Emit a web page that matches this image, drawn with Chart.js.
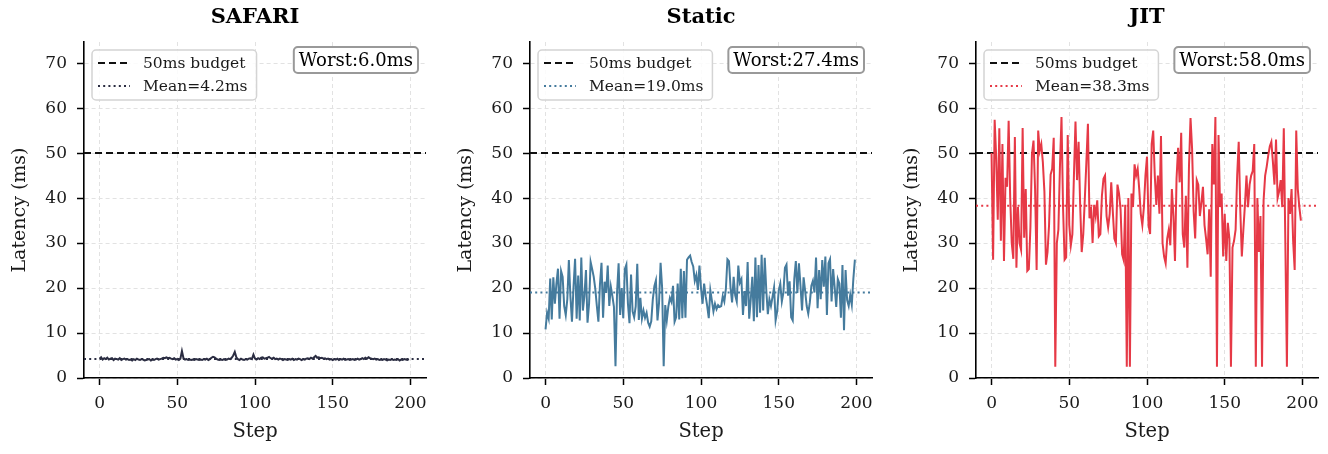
<!DOCTYPE html>
<html>
<head>
<meta charset="utf-8">
<script src="https://cdn.jsdelivr.net/npm/chart.js@4"></script>
<style>
  html, body { margin: 0; padding: 0; background: #fff; overflow: hidden; }
  #wrap { position: relative; width: 1328px; height: 454px; }
  canvas { position: absolute; top: 0; }
</style>
</head>
<body>
<div id="wrap">
  <canvas id="c0" width="442" height="454" style="left:0px"></canvas>
  <canvas id="c1" width="442" height="454" style="left:446px"></canvas>
  <canvas id="c2" width="442" height="454" style="left:892px"></canvas>
</div>
<script>
// latency per step
const SAFARI = [
  4.3,4.6,4.1,4.4,4.2,4.5,4.1,4.3,4.4,4.0, 4.3,4.2,4.1,4.4,4.0,4.2,4.3,4.1,4.2,4.0,
  4.1,3.9,4.2,4.0,4.3,4.1,4.0,4.2,4.1,3.9, 4.0,4.1,4.2,3.9,4.1,4.0,4.2,4.3,4.1,4.2,
  4.3,4.5,4.4,4.6,4.4,4.5,4.3,4.2,4.4,4.1, 4.2,4.0,4.3,6.0,4.4,4.1,4.2,4.0,4.1,4.0,
  4.1,4.0,4.2,4.1,4.0,4.1,4.0,4.2,4.1,4.3, 4.0,4.2,4.5,4.7,4.6,4.3,4.1,4.0,4.1,4.0,
  4.2,4.0,4.1,4.3,4.2,4.5,5.0,5.8,4.6,4.2, 4.0,4.3,4.1,4.0,4.2,4.1,4.3,4.4,4.2,5.2,
  4.3,4.1,4.4,4.2,4.5,4.6,4.3,4.4,4.5,4.7, 4.4,4.3,4.5,4.2,4.3,4.1,4.3,4.2,4.0,4.2,
  4.1,4.0,4.2,4.1,4.3,4.0,4.2,4.1,4.3,4.2, 4.0,4.2,4.1,4.3,4.4,4.2,4.5,4.3,4.6,4.9,
  4.5,4.6,4.4,4.5,4.3,4.4,4.2,4.3,4.1,4.2, 4.0,4.2,4.1,4.3,4.0,4.2,4.1,4.3,4.0,4.1,
  4.2,4.0,4.1,4.2,4.0,4.1,4.3,4.1,4.2,4.4, 4.2,4.5,4.3,4.6,4.4,4.3,4.2,4.3,4.1,4.2,
  4.0,4.1,4.0,4.2,4.1,3.9,4.1,4.0,4.2,4.0, 4.1,4.0,4.2,3.9,4.1,4.0,4.2,4.1,4.0,4.2
];
const STATIC = [
  10.8,14.5,13.2,22.1,13.0,22.4,16.5,21.0,24.3,13.2, 23.8,22.5,16.0,14.0,17.5,26.2,18.1,12.5,20.3,26.5,
  13.2,22.8,12.8,26.8,15.0,18.2,24.0,12.3,16.5,25.8, 24.2,22.5,19.8,16.0,12.5,20.8,25.6,13.4,21.4,18.9,
  25.0,16.0,20.3,18.2,15.8,2.6,19.0,25.5,14.0,20.0, 13.3,24.2,25.2,16.5,12.2,23.0,14.8,13.5,15.9,25.4,
  12.9,17.8,13.2,15.0,13.4,14.5,12.3,11.4,12.6,17.5, 20.4,21.7,12.8,16.7,25.6,20.0,2.6,16.2,12.8,15.9,
  17.8,16.9,20.5,12.5,13.5,21.0,13.0,24.3,13.3,23.8, 13.4,26.3,26.8,27.2,25.8,24.8,21.6,22.9,19.6,25.0,
  20.0,16.5,21.0,18.2,16.0,13.3,19.5,17.2,14.8,16.5, 15.3,16.2,15.8,16.0,18.2,17.0,19.8,26.4,26.0,20.1,
  16.8,22.5,18.4,17.0,25.0,21.2,22.0,14.0,19.3,16.0, 25.8,13.2,17.4,22.5,12.6,26.8,13.5,25.1,14.5,27.4,
  15.0,26.7,19.5,14.2,17.5,16.0,18.0,20.1,12.8,14.8, 19.5,21.0,17.0,19.0,24.5,25.2,18.3,21.5,13.5,12.8,
  22.0,26.0,18.9,25.5,20.5,15.0,22.4,19.3,16.0,14.3, 16.8,20.5,21.6,19.0,26.8,15.5,24.0,17.5,26.2,20.3,
  27.0,14.0,25.5,26.4,17.0,24.2,20.1,15.8,22.0,21.0, 13.4,25.1,10.6,24.0,17.3,16.0,18.5,16.3,22.0,26.3
];
const JIT = [
  50.0,26.3,57.4,49.0,35.2,55.5,30.5,52.0,26.0,44.5, 42.5,57.2,40.0,30.0,26.5,53.6,24.5,38.0,30.0,28.5,
  55.6,31.2,42.0,23.8,24.2,33.5,49.8,52.8,42.0,24.0, 55.0,50.5,52.0,48.0,41.5,25.2,28.0,34.0,45.2,46.5,
  53.4,2.5,30.0,33.0,47.0,58.0,37.8,26.3,26.8,54.0, 34.0,29.5,32.0,45.0,57.0,44.0,52.5,38.5,28.0,32.0,
  39.8,48.0,56.5,35.5,38.0,30.0,38.5,36.0,39.5,31.5, 32.0,40.5,44.3,45.0,36.0,33.5,36.5,43.5,37.0,31.0,
  30.0,43.0,41.0,37.5,27.5,26.2,38.5,2.5,40.0,2.5, 41.0,38.0,47.5,45.0,46.5,42.0,36.5,34.0,38.0,45.0,
  49.2,34.0,32.0,52.0,55.0,45.0,38.5,45.0,36.5,53.8, 30.0,27.0,25.5,31.0,33.0,29.5,42.0,36.0,26.0,44.3,
  51.2,43.5,54.5,32.0,29.0,40.5,24.5,47.0,57.8,51.0, 37.0,31.0,44.0,43.0,36.0,39.0,42.5,34.0,31.0,27.5,
  37.5,22.5,52.0,43.0,58.0,2.5,54.0,38.0,41.0,27.0, 36.5,26.0,34.5,31.0,2.5,29.0,30.5,33.0,45.0,52.5,
  37.5,27.0,33.0,38.5,45.0,38.0,43.0,45.0,46.0,52.0, 2.5,40.0,28.0,36.0,2.5,39.5,45.0,47.0,49.5,51.5,
  52.5,48.0,43.0,53.0,40.0,41.5,44.0,38.0,55.5,30.0, 2.5,40.0,36.5,42.0,30.5,24.0,55.0,42.0,38.0,35.0
];

const TITLES = ['SAFARI', 'Static', 'JIT'];
const COLORS = ['#2b2d42', '#457b9d', '#e63946'];
const MEANS = [4.2, 19.0, 38.3];
const WORST = [6.0, 27.4, 58.0];
const BUDGET = 50;
const X_TICKS = [0, 50, 100, 150, 200];
const Y_TICKS = [0, 10, 20, 30, 40, 50, 60, 70];
const X_MIN = -10, X_MAX = 210, Y_MAX = 74.7;

const FONT = '"DejaVu Serif", serif';

function roundRect(ctx, x, y, w, h, r) {
  ctx.beginPath();
  ctx.moveTo(x + r, y);
  ctx.arcTo(x + w, y, x + w, y + h, r);
  ctx.arcTo(x + w, y + h, x, y + h, r);
  ctx.arcTo(x, y + h, x, y, r);
  ctx.arcTo(x, y, x + w, y, r);
  ctx.closePath();
}

// title over the plot area, legend box (top left) and "Worst" box (top right)
const boxes = {
  id: 'boxes',
  afterDatasetsDraw(chart, args, opts) {
    const { ctx, chartArea: a } = chart;
    ctx.save();

    ctx.font = 'bold 21px ' + FONT;
    ctx.fillStyle = '#000';
    ctx.textAlign = 'center';
    ctx.textBaseline = 'middle';
    ctx.fillText(opts.title, (a.left + a.right) / 2, 18);
    ctx.textAlign = 'left';

    ctx.font = '15.5px ' + FONT;
    const tw = Math.max(...opts.items.map(it => ctx.measureText(it.text).width));
    const bx = a.left + 8, by = a.top + 8, bw = 51 + tw + 9, bh = 50;
    roundRect(ctx, bx, by, bw, bh, 4);
    ctx.fillStyle = 'rgba(255,255,255,0.85)';
    ctx.fill();
    ctx.strokeStyle = '#d4d4d4';
    ctx.lineWidth = 1.5;
    ctx.stroke();
    opts.items.forEach((it, i) => {
      const y = by + 13 + i * 23;
      ctx.beginPath();
      ctx.setLineDash(it.dash);
      ctx.strokeStyle = it.color;
      ctx.lineWidth = 2;
      ctx.moveTo(bx + 6, y);
      ctx.lineTo(bx + 38, y);
      ctx.stroke();
      ctx.setLineDash([]);
      ctx.fillStyle = '#1a1a1a';
      ctx.fillText(it.text, bx + 51, y + 1);
    });

    ctx.font = '18px ' + FONT;
    const ww = ctx.measureText(opts.worst).width + 10;
    const wx = a.right - 8 - ww, wy = a.top + 5;
    roundRect(ctx, wx, wy, ww, 26, 4);
    ctx.fillStyle = '#fff';
    ctx.fill();
    ctx.strokeStyle = '#999';
    ctx.lineWidth = 2;
    ctx.stroke();
    ctx.fillStyle = '#000';
    ctx.fillText(opts.worst, wx + 5, wy + 14);
    ctx.restore();
  }
};

function makePanel(idx, values) {
  const color = COLORS[idx];
  const points = values.map((v, i) => ({ x: i, y: v }));
  const span = [X_MIN, X_MAX];
  const ctx = document.getElementById('c' + idx).getContext('2d');
  new Chart(ctx, {
    type: 'line',
    data: {
      datasets: [
        {
          data: points,
          borderColor: color,
          borderWidth: 2,
          pointRadius: 0,
          tension: 0
        },
        {
          data: span.map(x => ({ x, y: BUDGET })),
          borderColor: '#111',
          borderWidth: 2,
          borderDash: [7, 4],
          pointRadius: 0
        },
        {
          data: span.map(x => ({ x, y: MEANS[idx] })),
          borderColor: color,
          borderWidth: 2,
          borderDash: [2, 3.2],
          pointRadius: 0
        }
      ]
    },
    options: {
      responsive: false,
      animation: false,
      devicePixelRatio: 1,
      layout: { padding: { left: 0, right: 16, top: 42, bottom: 0 } },
      scales: {
        x: {
          type: 'linear',
          min: X_MIN,
          max: X_MAX,
          afterBuildTicks: s => { s.ticks = X_TICKS.map(v => ({ value: v })); },
          afterFit: s => { s.height = 76; },
          grid: { color: '#e2e2e2', lineWidth: 1, tickColor: '#000', tickLength: 7, tickWidth: 1.5 },
          border: { color: '#000', width: 1.6, dash: [4, 3] },
          ticks: { color: '#1a1a1a', font: { family: FONT, size: 17 }, padding: 8, maxRotation: 0 },
          title: { display: true, text: 'Step', color: '#1a1a1a', font: { family: FONT, size: 19.5 }, padding: { top: 0, bottom: 10 } }
        },
        y: {
          min: 0,
          max: Y_MAX,
          afterBuildTicks: s => { s.ticks = Y_TICKS.map(v => ({ value: v })); },
          afterFit: s => { s.width = 84; },
          grid: { color: '#e2e2e2', lineWidth: 1, tickColor: '#000', tickLength: 7, tickWidth: 1.5 },
          border: { color: '#000', width: 1.6, dash: [4, 3] },
          ticks: { color: '#1a1a1a', font: { family: FONT, size: 17 }, padding: 10 },
          title: { display: true, text: 'Latency (ms)', color: '#1a1a1a', font: { family: FONT, size: 19 }, padding: { top: 9, bottom: 0 } }
        }
      },
      plugins: {
        legend: { display: false },
        tooltip: { enabled: false },
        title: { display: false },
        boxes: {
          title: TITLES[idx],
          items: [
            { text: BUDGET + 'ms budget', color: '#111', dash: [7, 4] },
            { text: 'Mean=' + MEANS[idx].toFixed(1) + 'ms', color: color, dash: [2, 3.2] }
          ],
          worst: 'Worst:' + WORST[idx].toFixed(1) + 'ms'
        }
      }
    },
    plugins: [boxes]
  });
}

makePanel(0, SAFARI);
makePanel(1, STATIC);
makePanel(2, JIT);
</script>
</body>
</html>
